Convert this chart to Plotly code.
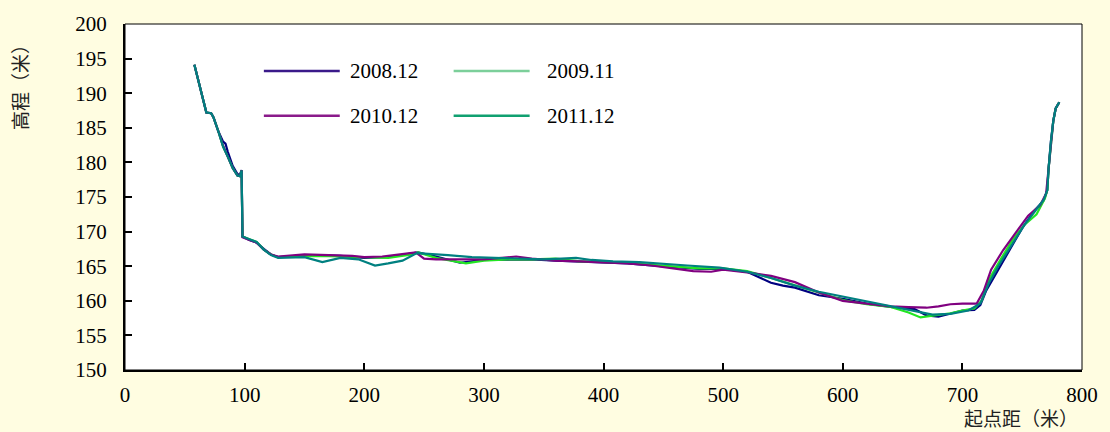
import plotly.graph_objects as go

# Cross-section survey profiles: distance from start point (m) vs. elevation (m)
x_2008 = [58, 62, 66, 68, 72, 74, 78, 82, 84, 86, 90, 94, 96, 97.5, 97.7, 98.2, 104, 110, 116, 122, 128,
          140, 160, 180, 200, 220, 240, 245, 260, 280, 300, 320, 340, 360, 380, 400, 420, 440, 460, 480,
          500, 520, 530, 540, 550, 560, 580, 600, 620, 640, 660, 670, 680, 690, 700, 710, 715, 720, 730,
          740, 750, 760, 768, 771, 772, 774, 776, 778, 781]
y_2008 = [194.1, 191.5, 188.5, 187.2, 187.1, 186.5, 184.5, 183.0, 182.7, 181.5, 179.5, 178.3, 178.2, 178.9,
          176.0, 169.3, 168.8, 168.4, 167.5, 166.7, 166.3, 166.4, 166.6, 166.5, 166.2, 166.3, 166.8, 167.0,
          166.4, 165.5, 165.9, 166.0, 166.0, 165.8, 165.7, 165.6, 165.4, 165.1, 164.8, 164.6, 164.6, 164.2,
          163.4, 162.6, 162.2, 161.9, 160.8, 160.3, 159.6, 159.1, 158.8, 157.9, 157.7, 158.2, 158.6, 158.7,
          159.4, 161.5, 164.5, 167.5, 170.5, 173.0, 174.5, 176.0, 179.0, 183.0, 186.0, 187.8, 188.7]

x_2009 = [58, 62, 66, 68, 72, 74, 78, 82, 86, 90, 94, 96, 97.5, 97.7, 98.2, 104, 110, 116, 122, 128,
          140, 160, 180, 200, 220, 240, 245, 260, 285, 300, 320, 340, 360, 380, 400, 420, 440, 460, 480,
          500, 520, 540, 560, 580, 600, 620, 640, 655, 665, 675, 690, 700, 710, 716, 722, 732, 742,
          752, 762, 769, 771, 772, 774, 776, 778, 781]
y_2009 = [194.1, 191.5, 188.5, 187.2, 187.1, 186.5, 184.5, 182.3, 180.8, 179.2, 178.1, 178.0, 178.8,
          176.0, 169.3, 168.9, 168.5, 167.4, 166.7, 166.3, 166.4, 166.5, 166.4, 166.3, 166.2, 166.7, 167.0,
          166.2, 165.4, 165.8, 166.0, 166.0, 166.1, 165.7, 165.6, 165.5, 165.2, 164.9, 164.7, 164.7, 164.3,
          163.3, 162.3, 161.2, 160.1, 159.5, 159.1, 158.3, 157.6, 157.8, 158.2, 158.6, 158.9, 160.0,
          163.0, 166.0, 168.8, 171.0, 172.5, 174.8, 176.0, 179.0, 183.0, 186.0, 187.8, 188.7]

x_2010 = [58, 62, 66, 68, 72, 74, 78, 82, 86, 90, 94, 96, 97.5, 97.7, 98.2, 104, 110, 116, 122, 128,
          140, 150, 170, 190, 200, 215, 230, 243, 250, 260, 280, 300, 315, 327, 340, 360, 380, 400, 420,
          440, 460, 475, 490, 500, 520, 540, 560, 580, 600, 620, 640, 655, 670, 680, 690, 700, 712, 718,
          724, 734, 745, 755, 765, 770, 772, 774, 776, 778, 781]
y_2010 = [194.1, 191.5, 188.5, 187.2, 187.1, 186.5, 184.5, 182.4, 180.8, 179.2, 178.1, 178.0, 178.8,
          176.0, 169.2, 168.8, 168.4, 167.4, 166.7, 166.4, 166.6, 166.7, 166.6, 166.5, 166.3, 166.4, 166.7,
          167.0, 166.1, 166.0, 166.0, 166.0, 166.2, 166.4, 166.1, 165.8, 165.7, 165.6, 165.4, 165.1,
          164.6, 164.3, 164.2, 164.5, 164.1, 163.6, 162.7, 161.2, 160.0, 159.6, 159.2, 159.1, 159.0,
          159.2, 159.5, 159.6, 159.6, 161.5, 164.5, 167.3, 170.0, 172.3, 173.8, 175.5, 179.0, 183.0,
          186.0, 187.8, 188.7]

x_2011 = [58, 62, 66, 68, 72, 74, 78, 82, 86, 90, 94, 96, 97.5, 97.7, 98.2, 104, 110, 116, 122, 128,
          140, 150, 165, 180, 195, 209, 220, 232, 244, 255, 270, 290, 310, 330, 350, 365, 377, 390, 408,
          430, 450, 470, 497, 520, 540, 560, 580, 600, 620, 640, 660, 675, 690, 705, 715, 722, 730, 742,
          752, 760, 768, 771, 772, 774, 776, 778, 781]
y_2011 = [194.1, 191.5, 188.5, 187.2, 187.1, 186.5, 184.5, 182.3, 180.8, 179.2, 178.1, 178.0, 178.8,
          176.0, 169.3, 168.9, 168.5, 167.4, 166.6, 166.2, 166.2, 166.3, 165.6, 166.2, 166.0, 165.1, 165.4,
          165.8, 166.9, 166.8, 166.6, 166.3, 166.2, 166.1, 166.0, 166.1, 166.2, 165.9, 165.7, 165.6,
          165.3, 165.1, 164.8, 164.2, 163.3, 162.2, 161.3, 160.6, 159.9, 159.3, 158.5, 158.0, 158.1,
          158.6, 159.6, 162.5, 165.0, 168.2, 171.0, 172.8, 174.6, 176.0, 179.0, 183.0, 186.0, 187.8, 188.7]

series_names = ["2008.12", "2009.11", "2010.12", "2011.12"]
line_colors = ["#000080", "#22e622", "#800080", "#008080"]
legend_colors = ["#3a1a8a", "#7ccf9a", "#8a1a8a", "#10a070"]
xs = [x_2008, x_2009, x_2010, x_2011]
ys = [y_2008, y_2009, y_2010, y_2011]

serif = "Liberation Serif, Times New Roman, Noto Sans CJK SC, serif"

fig = go.Figure()
for name, xv, yv, c in zip(series_names, xs, ys, line_colors):
    fig.add_trace(go.Scatter(x=xv, y=yv, mode="lines", name=name,
                             line=dict(color=c, width=2.2), showlegend=False))

# Hand-drawn legend block (two columns, two rows) with long line swatches
leg_rows = [0.864, 0.735]
leg_cols = [(0.1451, 0.2244, 0.2328), (0.3434, 0.4228, 0.4384)]
shapes = []
annotations = []
for i, (name, c) in enumerate(zip(series_names, legend_colors)):
    r, col = divmod(i, 2)
    x0, x1, xt = leg_cols[col]
    yy = leg_rows[r]
    shapes.append(dict(type="line", xref="paper", yref="paper", x0=x0, x1=x1, y0=yy, y1=yy,
                       line=dict(color=c, width=2.5)))
    annotations.append(dict(xref="paper", yref="paper", x=xt, y=yy, text=name, showarrow=False,
                            xanchor="left", yanchor="middle", font=dict(family=serif, size=21, color="black")))

# thin frame on top / right
shapes.append(dict(type="rect", xref="paper", yref="paper", x0=0, x1=1, y0=0, y1=1,
                   line=dict(color="black", width=1), layer="above"))

annotations.append(dict(xref="paper", yref="paper", x=-0.1075, y=0.83, text="高程（米）", textangle=-90,
                        showarrow=False, xanchor="center", yanchor="middle",
                        font=dict(family=serif, size=19, color="#222")))
annotations.append(dict(xref="paper", yref="paper", x=0.936, y=-0.142, text="起点距（米）",
                        showarrow=False, xanchor="center", yanchor="middle",
                        font=dict(family=serif, size=19, color="#222")))

fig.update_layout(
    width=1110, height=432,
    margin=dict(l=125, r=27, t=21, b=62),
    paper_bgcolor="#FFFDE1",
    plot_bgcolor="white",
    shapes=shapes,
    annotations=annotations,
    font=dict(family=serif, size=21, color="black"),
)
fig.update_xaxes(range=[0, 800], tickvals=[0, 100, 200, 300, 400, 500, 600, 700, 800],
                 ticks="inside", ticklen=7, tickwidth=1.5, tickcolor="black",
                 showline=True, linewidth=2, linecolor="black", showgrid=False, zeroline=False,
                 ticklabelstandoff=5, tickfont=dict(family=serif, size=21))
fig.update_yaxes(range=[150, 200], tickvals=list(range(150, 201, 5)),
                 ticks="inside", ticklen=7, tickwidth=1.5, tickcolor="black",
                 showline=True, linewidth=2, linecolor="black", showgrid=False, zeroline=False,
                 ticklabelstandoff=12, tickfont=dict(family=serif, size=21))

fig.write_html("out.html")
